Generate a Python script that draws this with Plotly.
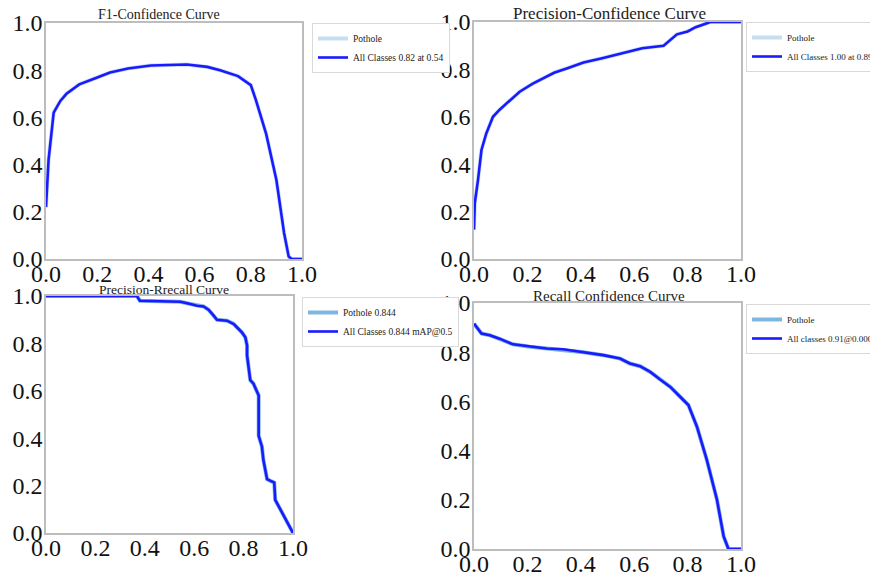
import plotly.graph_objects as go

W, H = 870, 577

# ---------------- data ----------------
f1_conf = [0.0, 0.004, 0.01, 0.03, 0.056, 0.08, 0.13, 0.19, 0.25, 0.32, 0.41, 0.55, 0.63, 0.68, 0.75, 0.80, 0.82, 0.86, 0.90, 0.93, 0.948, 0.96, 1.0]
f1_vals = [0.22, 0.30, 0.42, 0.62, 0.67, 0.70, 0.74, 0.765, 0.79, 0.807, 0.82, 0.824, 0.814, 0.80, 0.775, 0.737, 0.673, 0.53, 0.335, 0.11, 0.01, 0.0, 0.0]

p_conf = [0.0, 0.003, 0.015, 0.028, 0.046, 0.071, 0.096, 0.134, 0.171, 0.22, 0.30, 0.35, 0.41, 0.48, 0.55, 0.63, 0.71, 0.735, 0.76, 0.80, 0.83, 0.87, 0.885, 1.0]
p_vals = [0.124, 0.236, 0.334, 0.46, 0.53, 0.60, 0.63, 0.67, 0.706, 0.74, 0.786, 0.805, 0.829, 0.847, 0.868, 0.889, 0.90, 0.924, 0.948, 0.96, 0.978, 0.994, 1.0, 1.0]

pr_recall = [0.0, 0.368, 0.38, 0.544, 0.585, 0.611, 0.638, 0.658, 0.679, 0.692, 0.733, 0.760, 0.773, 0.793, 0.807, 0.814, 0.814, 0.82, 0.827, 0.84, 0.854, 0.861, 0.861, 0.874, 0.88, 0.888, 0.895, 0.915, 0.924, 0.928, 1.0]
pr_prec = [1.0, 1.0, 0.98, 0.976, 0.966, 0.959, 0.956, 0.942, 0.917, 0.900, 0.896, 0.882, 0.868, 0.847, 0.826, 0.791, 0.749, 0.70, 0.645, 0.63, 0.60, 0.58, 0.41, 0.365, 0.309, 0.266, 0.227, 0.217, 0.213, 0.14, 0.0]

r_conf = [0.0, 0.028, 0.059, 0.096, 0.146, 0.209, 0.272, 0.334, 0.41, 0.484, 0.547, 0.584, 0.622, 0.66, 0.697, 0.735, 0.772, 0.803, 0.835, 0.872, 0.91, 0.935, 0.953, 1.0]
r_vals = [0.916, 0.876, 0.869, 0.855, 0.832, 0.822, 0.815, 0.812, 0.80, 0.788, 0.774, 0.754, 0.743, 0.72, 0.689, 0.659, 0.619, 0.585, 0.497, 0.362, 0.2, 0.051, 0.0, 0.0]

tick_vals = [0.0, 0.2, 0.4, 0.6, 0.8, 1.0]
tick_text = ["0.0", "0.2", "0.4", "0.6", "0.8", "1.0"]

titles = ["F1-Confidence Curve", "Precision-Confidence Curve", "Precision-Rrecall Curve", "Recall Confidence Curve"]
class_names = ["Pothole", "Pothole", "Pothole 0.844", "Pothole"]
all_names = ["All Classes 0.82 at 0.54", "All Classes 1.00 at 0.892", "All Classes 0.844 mAP@0.5", "All classes 0.91@0.000"]

series = [(f1_conf, f1_vals), (p_conf, p_vals), (pr_recall, pr_prec), (r_conf, r_vals)]

# ---------------- layout geometry (pixels) ----------------
boxes = [(46, 302, 23, 259), (474, 741, 22, 259), (46, 293, 296, 533), (474, 741, 303, 549)]
title_pos = [(159, 14, 14), (609, 13, 17), (164, 289, 13.5), (609, 296, 15)]
legend_pos = [(312, 23, 9.5), (746, 22, 9), (302, 297, 9.5), (746, 304, 9)]

FONT = "Liberation Serif, Times New Roman, serif"
BLUE = "#1a1aff"
LIGHT = ["#c6def0", "#c6def0", "#7fb6df", "#7fb6df"]

fig = go.Figure()
layout = dict(
    width=W, height=H, margin=dict(l=0, r=0, t=0, b=0, autoexpand=False),
    paper_bgcolor="white", plot_bgcolor="white",
    font=dict(family=FONT, color="#111111"),
)
annotations = []
for i, ((x, y), (l, r, t, b)) in enumerate(zip(series, boxes)):
    n = "" if i == 0 else str(i + 1)
    leg = "legend" if i == 0 else f"legend{i+1}"
    fig.add_trace(go.Scatter(x=x, y=y, mode="lines", name=class_names[i],
                             line=dict(color=LIGHT[i], width=4),
                             xaxis="x" + n, yaxis="y" + n, legend=leg))
    fig.add_trace(go.Scatter(x=x, y=y, mode="lines", name=all_names[i],
                             line=dict(color=BLUE, width=2.6),
                             xaxis="x" + n, yaxis="y" + n, legend=leg))
    ax = dict(range=[0, 1], tickvals=tick_vals, ticktext=tick_text,
              showgrid=False, zeroline=False, showline=True, mirror=True,
              linecolor="#bdbdbd", linewidth=1.6, ticks="", automargin=False,
              tickfont=dict(family=FONT, size=24, color="#111111"))
    layout["xaxis" + n] = dict(ax, domain=[l / W, r / W], anchor="y" + n, ticklabelstandoff=-8)
    layout["yaxis" + n] = dict(ax, domain=[1 - b / H, 1 - t / H], anchor="x" + n, ticklabelstandoff=-3)
    tx, ty, ts = title_pos[i]
    annotations.append(dict(text=titles[i], x=tx / W, y=1 - ty / H, xref="paper", yref="paper",
                            showarrow=False, xanchor="center", yanchor="middle",
                            font=dict(family=FONT, size=ts, color="#222222")))
    lx, ly, lf = legend_pos[i]
    layout[leg] = dict(x=lx / W, y=1 - ly / H, xanchor="left", yanchor="top",
                       xref="paper", yref="paper",
                       bgcolor="white", bordercolor="#d9d9d9", borderwidth=1,
                       font=dict(family=FONT, size=lf, color="#222222"),
                       itemwidth=30, tracegroupgap=0)

layout["annotations"] = annotations
layout["showlegend"] = True
fig.update_layout(**layout)
fig.write_html("out.html", config={"displayModeBar": False},
               post_script="document.body.style.margin='0';document.body.style.overflow='hidden';")
